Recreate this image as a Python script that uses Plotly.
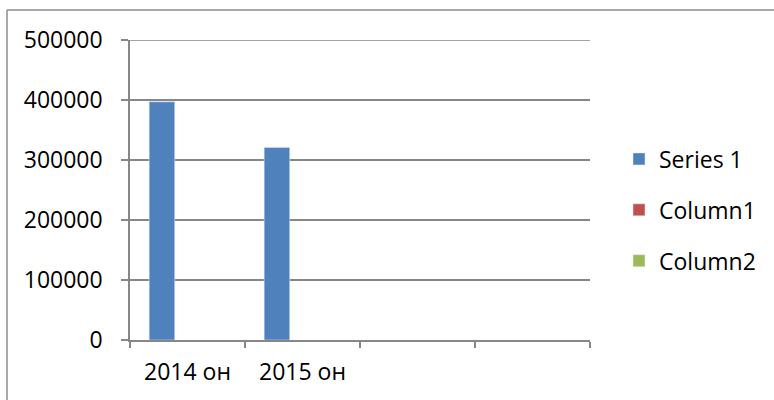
import plotly.graph_objects as go

categories = ["2014 он", "2015 он", " ", "  "]
series1 = [397000, 321000, None, None]
column1 = [None, None, None, None]
column2 = [None, None, None, None]
y_ticks = [0, 100000, 200000, 300000, 400000, 500000]

GRID = "#878787"
FONT = dict(family="Open Sans, Liberation Sans, sans-serif", size=23, color="#000000")

fig = go.Figure()
fig.add_trace(go.Bar(x=categories, y=series1, name="Series 1", marker_color="#4F81BD", legendgroup="a"))
fig.add_trace(go.Bar(x=categories, y=column1, name="Column1", marker_color="#C0504D", legendgroup="b"))
fig.add_trace(go.Bar(x=categories, y=column2, name="Column2", marker_color="#9BBB59", legendgroup="c"))

L, R, T, B = 130, 184, 40, 60
W, H = 774, 400
pw = W - L - R
ph = H - T - B

fig.update_layout(
    width=W, height=H,
    margin=dict(l=L, r=R, t=T, b=B),
    paper_bgcolor="white", plot_bgcolor="white",
    font=FONT,
    barmode="group", bargap=1.5 / 4.5, bargroupgap=0,
    showlegend=True,
    legend=dict(x=(619 - L) / pw, xanchor="left", y=(340 - 210) / ph, yanchor="middle",
                traceorder="grouped", tracegroupgap=18, font=FONT,
                bgcolor="rgba(0,0,0,0)"),
    xaxis=dict(type="category", categoryorder="array", categoryarray=categories,
               tickson="boundaries", ticks="outside", ticklen=6, tickcolor=GRID, tickwidth=1.5,
               showline=True, linecolor=GRID, linewidth=1.5, showgrid=False,
               ticklabelstandoff=11, fixedrange=True),
    yaxis=dict(range=[0, y_ticks[-1]], tickvals=y_ticks, tickformat="d",
               ticks="outside", ticklen=7, tickcolor=GRID, tickwidth=1.5,
               showline=True, linecolor=GRID, linewidth=1.5,
               showgrid=True, gridcolor=GRID, gridwidth=1.5, zeroline=False,
               ticklabelstandoff=14, fixedrange=True),
    shapes=[
        dict(type="line", xref="paper", yref="y", layer="below",
             x0=0, x1=1, y0=y_ticks[-1], y1=y_ticks[-1],
             line=dict(color=GRID, width=1.5)),
        dict(type="line", xref="paper", yref="paper",
             x0=(7 - L) / pw, x1=(7 - L) / pw, y0=(H - B - 10) / ph, y1=(H - B - 402) / ph,
             line=dict(color="#8c8c8c", width=1.5)),
        dict(type="line", xref="paper", yref="paper",
             x0=(7 - L) / pw, x1=(780 - L) / pw, y0=(H - B - 10) / ph, y1=(H - B - 10) / ph,
             line=dict(color="#8c8c8c", width=1.5)),
    ],
)

fig.write_html("out.html", config={"displayModeBar": False},
               post_script="document.body.style.margin='0';")
